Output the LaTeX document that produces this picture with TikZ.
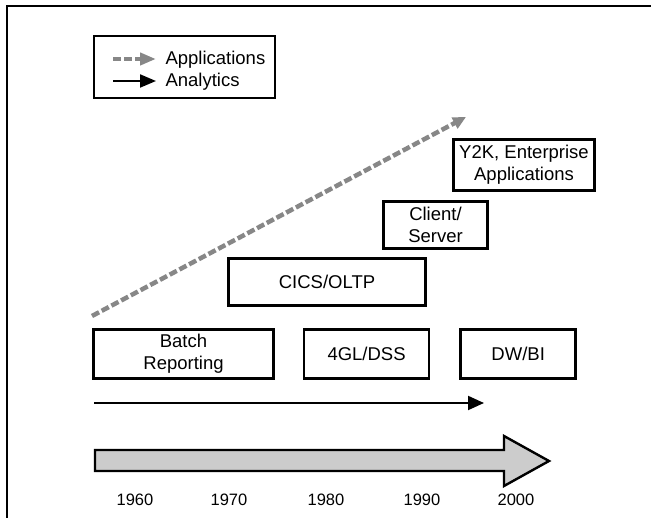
\documentclass[tikz,border=0pt]{standalone}
\usepackage{fontspec}
\setmainfont{Liberation Sans}
\usetikzlibrary{arrows.meta}
\usetikzlibrary{positioning}

\begin{document}
\begin{tikzpicture}
		[
		x=1pt, y=-1pt,
		font=\fontsize{18.5}{22}\selectfont,
		line join=miter
		]
		
		% Styles: boxes, arrows and years
		\tikzstyle{era box}=[draw,line width=2.6pt,inner sep=0,align=center];
		\tikzstyle{apps arrow}=[draw=black!47,line width=4.5pt,dash pattern=on 8pt off 3pt,
			-{Triangle[length=13pt,width=12pt]}];
		\tikzstyle{analytics arrow}=[draw,line width=2pt,-{Triangle[length=16pt,width=14pt]}];
		\tikzstyle{year}=[anchor=base,font=\fontsize{16.5}{19}\selectfont];
		
		\useasboundingbox (0,0) rectangle (651,518);
		% Frame (top and left only)
		\draw[line width=1.6pt] (651,6) -- (7,6) -- (7,518);
		
		% Legend
		\node(legend)[era box,minimum width=181,minimum height=62]at(184.5,67){};
		\coordinate(apps leg start)at(113,59);
		\coordinate(apps leg end)at(156,59);
		\coordinate(an leg start)at(113,81);
		\coordinate(an leg end)at(156,81);
		\draw[apps arrow,-{Triangle[length=16pt,width=12pt]}](apps leg start)--(apps leg end);
		\draw[line width=2pt,-{Triangle[length=16pt,width=13pt]}](an leg start)--(an leg end);
		\node[anchor=base west]at(162,65){Applications};
		\node[anchor=base west]at(162,87){Analytics};
		
		% Applications
		\node(y2k)[era box,minimum width=141,minimum height=51]at(524,165){Y2K, Enterprise\\Applications};
		\node(cs)[era box,minimum width=104,minimum height=47]at(435.5,225){Client/\\Server};
		\node(cics)[era box,minimum width=197,minimum height=47]at(327,282){CICS/OLTP};
		
		% Analytics
		\node(batch)[era box,minimum width=180,minimum height=49]at(183.5,354){Batch\\Reporting};
		\node(dss)[era box,minimum width=125,minimum height=49,right=28 of batch]{4GL/DSS};
		\node(dw)[era box,minimum width=115,minimum height=49,right=29 of dss]{DW/BI};
		
		% Trend arrows
		\coordinate(apps start)at(92,316);
		\coordinate(apps end)at(466,117);
		\draw[apps arrow](apps start)--(apps end);
		\coordinate(an start)at(94,403);
		\coordinate(an end)at(484,403);
		\draw[analytics arrow](an start)--(an end);
		
		% Time line
		\draw[line width=2.4pt,fill=black!20](95,450)--(504,450)--(504,436)--(549,461)
			--(504,486)--(504,471)--(95,471)--cycle;
		\foreach \yr/\x in {1960/135, 1970/229, 1980/326, 1990/422, 2000/516}
			\node(y\yr)[year]at(\x,505){\yr};
		
\end{tikzpicture}
\end{document}
